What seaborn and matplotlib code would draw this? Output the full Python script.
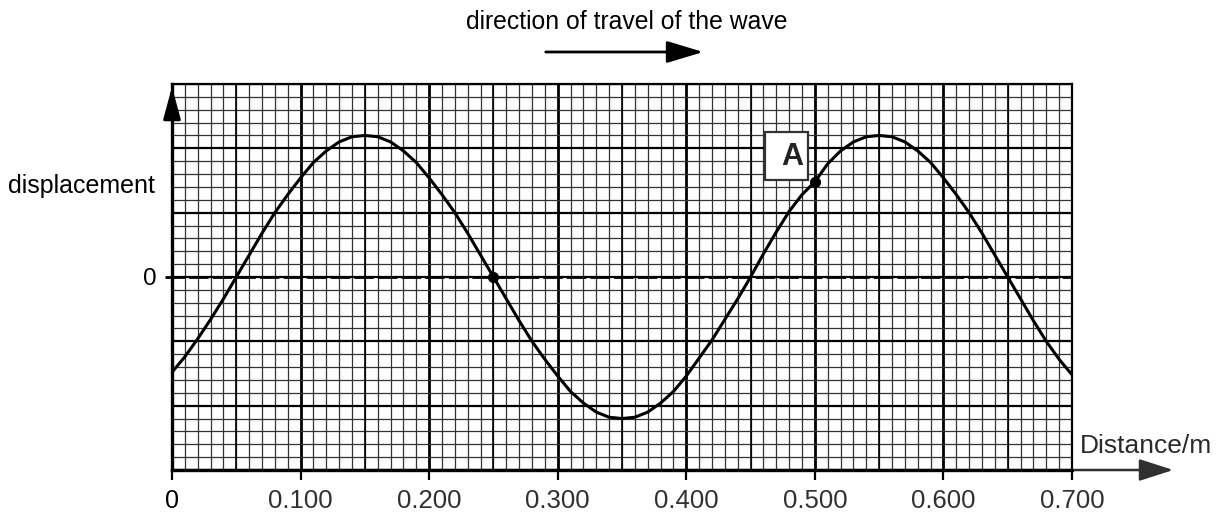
import numpy as np
import pandas as pd
import matplotlib
matplotlib.use("Agg")
import matplotlib.pyplot as plt
from matplotlib.patches import Rectangle
import seaborn as sns

# ---- data (displacement in small grid squares, distance in m) ----
distance = [0.00, 0.01, 0.02, 0.03, 0.04, 0.05, 0.06, 0.07, 0.08, 0.09,
            0.10, 0.11, 0.12, 0.13, 0.14, 0.15, 0.16, 0.17, 0.18, 0.19,
            0.20, 0.21, 0.22, 0.23, 0.24, 0.25, 0.26, 0.27, 0.28, 0.29,
            0.30, 0.31, 0.32, 0.33, 0.34, 0.35, 0.36, 0.37, 0.38, 0.39,
            0.40, 0.41, 0.42, 0.43, 0.44, 0.45, 0.46, 0.47, 0.48, 0.49,
            0.50, 0.51, 0.52, 0.53, 0.54, 0.55, 0.56, 0.57, 0.58, 0.59,
            0.60, 0.61, 0.62, 0.63, 0.64, 0.65, 0.66, 0.67, 0.68, 0.69,
            0.70]
displacement = [-7.4, -6.2, -4.8, -3.3, -1.7, 0.0, 1.7, 3.4, 5.0, 6.4,
                7.7, 8.9, 9.8, 10.5, 10.9, 11.0, 10.9, 10.5, 9.8, 8.9,
                7.7, 6.4, 5.0, 3.4, 1.7, 0.0, -1.7, -3.4, -5.0, -6.4,
                -7.7, -8.9, -9.8, -10.5, -10.9, -11.0, -10.9, -10.5, -9.8, -8.9,
                -7.7, -6.3, -4.9, -3.3, -1.7, 0.0, 1.8, 3.5, 5.1, 6.4,
                7.4, 8.8, 9.8, 10.5, 10.9, 11.0, 10.9, 10.5, 9.8, 8.9,
                7.7, 6.4, 5.0, 3.4, 1.7, 0.0, -1.7, -3.4, -5.0, -6.4,
                -7.6]
marked_x = [0.25, 0.50]
marked_y = [0.0, 7.4]
x_tick_values = [0.0, 0.1, 0.2, 0.3, 0.4, 0.5, 0.6, 0.7]
x_tick_labels = ["0", "0.100", "0.200", "0.300", "0.400", "0.500", "0.600", "0.700"]
y_zero_label = "0"
title_text = "direction of travel of the wave"
y_label_text = "displacement"
x_label_text = "Distance/m"
point_label = "A"

sns.set_theme(style="white")
plt.rcParams['font.family'] = ['Liberation Sans', 'DejaVu Sans']

fig = plt.figure(figsize=(12.29, 5.23), dpi=100)
ax = fig.add_axes([0.13995, 0.10134, 0.73231, 0.73805])

X0, X1 = 0.0, 0.7
Y0, Y1 = -15, 15
ax.set_xlim(X0, X1)
ax.set_ylim(Y0, Y1)

# graph paper grid
ax.set_xticks(x_tick_values)
ax.set_xticks(np.arange(0, 0.7001, 0.01), minor=True)
ax.set_yticks(np.arange(Y0, Y1 + 0.1, 5))
ax.set_yticks(np.arange(Y0, Y1 + 0.1, 1), minor=True)
ax.grid(which='minor', color='#333333', lw=0.9)
ax.grid(which='major', axis='x', color='black', lw=2.0)
ax.grid(which='major', axis='y', color='black', lw=1.6)
for xv in np.arange(0.05, 0.7, 0.1):
    ax.axvline(xv, color='black', lw=1.2, zorder=0.6)
ax.set_axisbelow(True)

# zero line (dashed, extends a little left of the axis)
ax.axhline(0, xmin=-0.008, xmax=1, color='black', lw=2.0,
           linestyle=(0, (7, 1.5)), clip_on=False, zorder=1.5)

# wave
df = pd.DataFrame({"distance": distance, "displacement": displacement})
sns.lineplot(data=df, x="distance", y="displacement", ax=ax, color='black',
             lw=2.2, zorder=3, sort=False, estimator=None)
sns.scatterplot(x=marked_x, y=marked_y, ax=ax, color='black', s=55,
                edgecolor='black', zorder=4)

# label box A
ax.add_patch(Rectangle((0.4612, 7.54), 0.0334, 3.73, facecolor='white',
                       edgecolor='#333333', lw=1.6, zorder=3.5))
ax.text(0.4910, 9.35, point_label, ha='right', va='center', fontsize=22,
        fontweight='bold', color='#222222', zorder=4)

# spines
for side in ['left', 'bottom']:
    ax.spines[side].set_color('black')
    ax.spines[side].set_linewidth(2.4)
for side in ['top', 'right']:
    ax.spines[side].set_color('black')
    ax.spines[side].set_linewidth(1.6)

# ticks and labels
ax.set_xticklabels(x_tick_labels)
ax.tick_params(axis='x', which='major', direction='out', length=7, width=1.6,
               color='black', pad=7, labelsize=18.5, labelcolor='#303030',
               bottom=True)
ax.tick_params(axis='x', which='minor', length=0)
ax.get_xticklabels()[0].set_color('black')
ax.get_xticklabels()[0].set_fontweight('medium')
ax.get_xticklabels()[0].set_fontsize(18)
ax.set_yticklabels([y_zero_label if v == 0 else "" for v in ax.get_yticks()])
ax.tick_params(axis='y', which='both', length=0, pad=11, labelsize=17.5,
               labelcolor='black')
ax.set_xlabel("")
ax.set_ylabel("")

# axis arrows
ax.annotate("", xy=(0, 1.0), xytext=(0, 0.93), xycoords='axes fraction',
            arrowprops=dict(arrowstyle='-|>,head_length=1.3,head_width=0.35',
                            color='black', lw=2.2, mutation_scale=15),
            annotation_clip=False)
ax.annotate("", xy=(1.1156, 0), xytext=(1.0, 0), xycoords='axes fraction',
            arrowprops=dict(arrowstyle='-|>,head_length=1.4,head_width=0.45',
                            color='#303030', lw=1.8, mutation_scale=15),
            annotation_clip=False)

# texts
ax.text(1.0089, 0.062, x_label_text, transform=ax.transAxes, ha='left',
        va='center', fontsize=19, color='#2a2a2a')
ax.text(-0.0185, 0.736, y_label_text, transform=ax.transAxes, ha='right',
        va='center', fontsize=18, color='black')
fig.text(0.510, 0.958, title_text, ha='center', va='center', fontsize=17.8,
         color='black')
fig.patches.append(matplotlib.patches.FancyArrowPatch(
    (0.4418, 0.9006), (0.5745, 0.9006), transform=fig.transFigure,
    arrowstyle='-|>,head_length=1.5,head_width=0.45', color='black', lw=2.0,
    mutation_scale=15))

fig.savefig("out.png", dpi=100, facecolor='white')
